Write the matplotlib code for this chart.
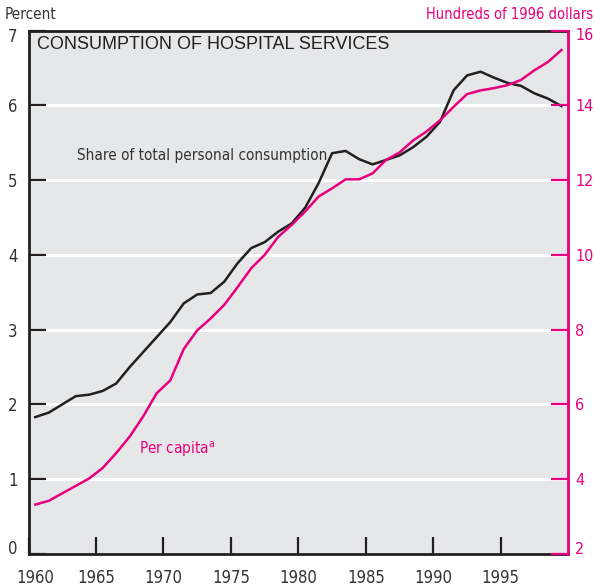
import matplotlib
matplotlib.use('Agg')
import matplotlib.pyplot as plt
import matplotlib.transforms as mtransforms
import numpy as np

plt.rcParams['font.family'] = ['DejaVu Sans']
plt.rcParams['font.stretch'] = 'condensed'

# annual values, 1960-1999
years = np.arange(1960, 2000)
share_pct = [1.83, 1.89, 2.00, 2.11, 2.13, 2.18, 2.28, 2.50, 2.70, 2.90,
             3.10, 3.35, 3.47, 3.49, 3.64, 3.89, 4.09, 4.17, 4.31, 4.42,
             4.63, 4.96, 5.36, 5.39, 5.28, 5.21, 5.27, 5.33, 5.44, 5.58,
             5.78, 6.20, 6.40, 6.45, 6.37, 6.30, 6.26, 6.16, 6.09, 5.99]
per_capita = [3.32, 3.42, 3.62, 3.82, 4.02, 4.30, 4.70, 5.14, 5.68, 6.30,
              6.64, 7.48, 7.98, 8.30, 8.66, 9.14, 9.64, 10.00, 10.48, 10.80,
              11.16, 11.56, 11.78, 12.02, 12.02, 12.18, 12.54, 12.74, 13.06, 13.30,
              13.60, 13.96, 14.30, 14.40, 14.46, 14.54, 14.68, 14.94, 15.16, 15.48]

left_ticks = [0, 1, 2, 3, 4, 5, 6, 7]
right_ticks = [2, 4, 6, 8, 10, 12, 14, 16]
year_ticks = [1960, 1965, 1970, 1975, 1980, 1985, 1990, 1995]

DARK = '#231f20'
PINK = '#e6007e'
BG = '#e6e7e8'
TXT = '#333333'

fig = plt.figure(figsize=(5.95, 5.88), dpi=100)
ax = fig.add_axes([0.048, 0.058, 0.907, 0.890])
ax.set_facecolor(BG)
ax2 = ax.twinx()

# mid-year positions
xs = years + 0.5

for v in left_ticks[1:-1]:
    ax.axhline(v, color='white', lw=2.2, zorder=1)

ax.plot(xs, share_pct, color=DARK, lw=1.8, zorder=3)
ax2.plot(xs, per_capita, color=PINK, lw=1.8, zorder=3)

ax.set_xlim(1960, 2000)
ax.set_ylim(0, 7)
ax2.set_ylim(2, 16)

ax.set_xticks(year_ticks)
ax.set_yticks(left_ticks)
ax2.set_yticks(right_ticks)

for s in ['left', 'bottom', 'top']:
    ax.spines[s].set_color(DARK)
    ax.spines[s].set_linewidth(2)
ax.spines['right'].set_visible(False)
for s in ['left', 'bottom', 'top']:
    ax2.spines[s].set_visible(False)
ax2.spines['right'].set_color(PINK)
ax2.spines['right'].set_linewidth(2)

ax.tick_params(axis='both', direction='in', length=12, width=1.6,
               color=DARK, labelsize=12, labelcolor=TXT)
ax.tick_params(axis='y', pad=8)
ax.tick_params(axis='x', pad=11)
ax2.tick_params(axis='y', direction='in', length=12, width=1.6,
                color=PINK, labelsize=11.5, labelcolor=PINK, pad=5)

# keep the end labels inside the frame height
nudge_up = mtransforms.ScaledTranslation(0, 3 / 100, fig.dpi_scale_trans)
for a in (ax, ax2):
    labels = a.get_yticklabels()
    labels[0].set_verticalalignment('baseline')
    labels[-1].set_verticalalignment('top')
    labels[-1].set_transform(labels[-1].get_transform() + nudge_up)
first_year = ax.get_xticklabels()[0]
first_year.set_transform(first_year.get_transform() +
                         mtransforms.ScaledTranslation(7 / 100, 0, fig.dpi_scale_trans))

fig.text(0.008, 0.975, 'Percent', fontsize=11, color=TXT, va='center')
fig.text(0.997, 0.975, 'Hundreds of 1996 dollars', fontsize=10.5, color=PINK,
         va='center', ha='right')

ax.text(1960.6, 6.82, 'CONSUMPTION OF HOSPITAL SERVICES', fontsize=13,
        family=['Liberation Sans', 'DejaVu Sans'], stretch='normal',
        color=DARK, va='center')
ax.text(1963.6, 5.33, 'Share of total personal consumption', fontsize=11,
        color=TXT, va='center')
ax.text(1968.2, 1.40, 'Per capita$^{\\mathregular{a}}$', fontsize=11,
        color=PINK, va='center')

fig.savefig('out.png', dpi=100)
